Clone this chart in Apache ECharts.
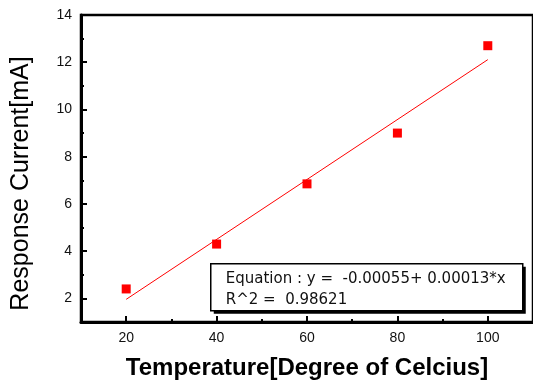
<!DOCTYPE html>
<html>
<head>
    <meta charset="utf-8" />
    <title>Response Current vs Temperature</title>
    <script src="https://cdn.jsdelivr.net/npm/echarts@6/dist/echarts.min.js"></script>
    <style>
        html, body { margin: 0; padding: 0; background: #fff; }
    </style>
</head>
<body>
<div id="main" style="width:533px;height:385px;"></div>

<script type="text/javascript">
    // measured points
    var temps = [20, 40, 60, 80, 100];
    var currents = [2.4, 4.3, 6.85, 9.0, 12.7];

    // linear fit line, ends
    var fitTemps = [20, 100];
    var fitCurrents = [1.96, 12.11];

    // tick positions
    var xMajor = [20, 40, 60, 80, 100];
    var xMinor = [30, 50, 70, 90];
    var yMajor = [2, 4, 6, 8, 10, 12, 14];
    var yMinor = [3, 5, 7, 9, 11, 13];

    var fitText = 'Equation : y =  -0.00055+ 0.00013*x\nR^2 =  0.98621';

    var font = 'Arial, "Liberation Sans", sans-serif';

    function pairs(xs, ys) {
        var out = [];
        for (var i = 0; i < xs.length; i++) out.push([xs[i], ys[i]]);
        return out;
    }

    var myChart = echarts.init(document.getElementById('main'));

    var option = {
        animation: false,
        grid: {
            left: 81, top: 15, right: -2, bottom: 60,
            show: true,
            borderColor: '#000',
            borderWidth: 2.5
        },
        xAxis: [
            {
                type: 'value',
                min: 10, max: 110,
                name: 'Temperature[Degree of Celcius]',
                nameLocation: 'middle',
                nameGap: 34,
                nameTextStyle: { fontFamily: font, fontSize: 24, fontWeight: 'bold', color: '#000' },
                axisLine: { show: true, lineStyle: { color: '#000', width: 3 } },
                axisTick: { inside: true, length: 6, lineStyle: { color: '#000', width: 2 }, customValues: xMajor },
                axisLabel: { customValues: xMajor, fontFamily: font, fontSize: 14, color: '#111', margin: 9 },
                splitLine: { show: false }
            },
            {
                // minor ticks only
                type: 'value',
                min: 10, max: 110,
                position: 'bottom',
                axisLine: { show: false },
                axisTick: { inside: true, length: 3, lineStyle: { color: '#000', width: 2 }, customValues: xMinor },
                axisLabel: { show: false },
                splitLine: { show: false }
            }
        ],
        yAxis: [
            {
                type: 'value',
                min: 1, max: 14,
                name: 'Response Current[mA]',
                nameLocation: 'middle',
                nameGap: 47,
                nameTextStyle: { fontFamily: font, fontSize: 25, color: '#000', padding: [0, 30, 0, 0] },
                axisLine: { show: true, lineStyle: { color: '#000', width: 3 } },
                axisTick: { inside: true, length: 6, lineStyle: { color: '#000', width: 2 }, customValues: yMajor.slice(0, 6) },
                axisLabel: { customValues: yMajor, fontFamily: font, fontSize: 14, color: '#111', margin: 9 },
                splitLine: { show: false }
            },
            {
                // minor ticks only
                type: 'value',
                min: 1, max: 14,
                position: 'left',
                axisLine: { show: false },
                axisTick: { inside: true, length: 3, lineStyle: { color: '#000', width: 2 }, customValues: yMinor },
                axisLabel: { show: false },
                splitLine: { show: false }
            }
        ],
        series: [
            {
                name: 'fit',
                type: 'line',
                data: pairs(fitTemps, fitCurrents),
                showSymbol: false,
                lineStyle: { color: '#ff0000', width: 1 },
                z: 2
            },
            {
                name: 'data',
                type: 'scatter',
                data: pairs(temps, currents),
                symbol: 'rect',
                symbolSize: 9,
                itemStyle: { color: '#ff0000', opacity: 1 },
                z: 3
            }
        ],
        graphic: [
            {
                // fit result box with drop shadow
                type: 'group',
                left: 210, top: 263,
                children: [
                    { type: 'rect', shape: { x: 3, y: 3, width: 312, height: 47 }, style: { fill: '#000' } },
                    { type: 'rect', shape: { x: 0, y: 0, width: 312, height: 47 }, style: { fill: '#fff', stroke: '#000', lineWidth: 1.5 } },
                    {
                        type: 'text', x: 15, y: 5,
                        style: { text: fitText, font: '15px "DejaVu Sans", sans-serif', fill: '#111', lineHeight: 21 }
                    }
                ]
            }
        ]
    };

    myChart.setOption(option);
</script>
</body>
</html>
